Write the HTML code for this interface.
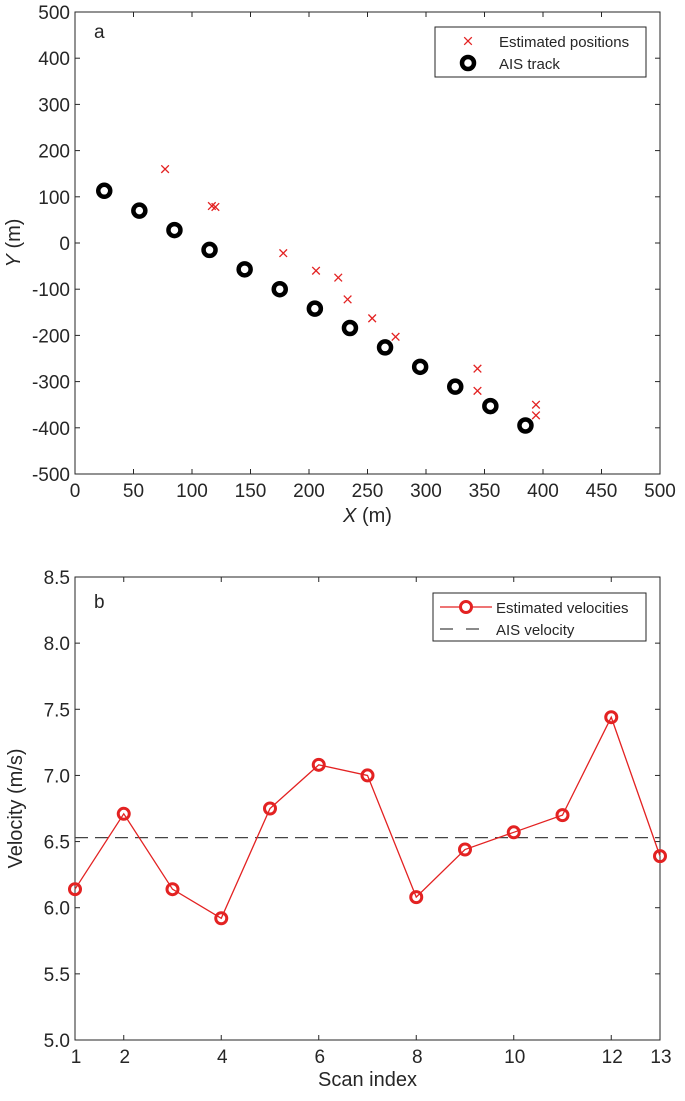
<!DOCTYPE html>
<html><head><meta charset="utf-8"><style>
body{margin:0;background:#fff;}
svg text{font-family:"Liberation Sans",Arial,sans-serif;fill:#262626;}
</style></head><body>
<svg width="685" height="1096" viewBox="0 0 685 1096" xmlns="http://www.w3.org/2000/svg">
<g id="top"></g>
<g id="bot"></g>
</svg>
<script>
const posTicks=[0,50,100,150,200,250,300,350,400,450,500];
const posYTicks=[-500,-400,-300,-200,-100,0,100,200,300,400,500];
const aisX=[25,55,85,115,145,175,205,235,265,295,325,355,385];
const aisY=[113,70,28,-15,-57,-100,-142,-184,-226,-268,-311,-353,-395];
const estX=[77,117,120,178,206,225,233,254,274,344,344,394,394];
const estY=[160,80,78,-22,-60,-75,-122,-163,-203,-272,-320,-350,-373];
const scanIdx=[1,2,3,4,5,6,7,8,9,10,11,12,13];
const velocities=[6.14,6.71,6.14,5.92,6.75,7.08,7.0,6.08,6.44,6.57,6.70,7.44,6.39];
const aisVelocity=6.53;
const velXTicks=[1,2,4,6,8,10,12,13];
const velYTicks=[5.0,5.5,6.0,6.5,7.0,7.5,8.0,8.5];

const NS='http://www.w3.org/2000/svg';
function mk(p,tag,a){const e=document.createElementNS(NS,tag);for(const k in a)e.setAttribute(k,a[k]);p.appendChild(e);return e;}

const T=document.getElementById('top');
const L=75,R=660,t1=12,b1=474;
const px=v=>L+(v-0)/500*(R-L);
const py=v=>b1-(v+500)/1000*(b1-t1);
let e;
e=mk(T,'rect',{x:L,y:t1,width:R-L,height:b1-t1,fill:'none',stroke:'#262626','stroke-width':1});


posTicks.forEach(v=>{
 mk(T,'line',{x1:px(v),x2:px(v),y1:b1,y2:b1-5,stroke:'#262626'});
 mk(T,'line',{x1:px(v),x2:px(v),y1:t1,y2:t1+5,stroke:'#262626'});
 e=mk(T,'text',{x:px(v),y:b1+23,'text-anchor':'middle','font-size':19});e.textContent=v;
 
 
});
posYTicks.forEach(v=>{
 mk(T,'line',{x1:L,x2:L+5,y1:py(v),y2:py(v),stroke:'#262626'});
 mk(T,'line',{x1:R,x2:R-5,y1:py(v),y2:py(v),stroke:'#262626'});
 e=mk(T,'text',{x:L-5,y:py(v)+7,'text-anchor':'end','font-size':19});e.textContent=v;
 
 
});
e=mk(T,'text',{x:(L+R)/2,y:b1+48,'text-anchor':'middle','font-size':20});
e.innerHTML='<tspan font-style="italic">X</tspan> (m)';


e=mk(T,'text',{x:0,y:0,'text-anchor':'middle','font-size':20,transform:`translate(20,${(t1+b1)/2}) rotate(-90)`});
e.innerHTML='<tspan font-style="italic">Y</tspan> (m)';


e=mk(T,'text',{x:94,y:38,'font-size':19});e.textContent='a';


aisX.forEach((x,i)=>{
 e=mk(T,'circle',{cx:px(x),cy:py(aisY[i]),r:6,fill:'none',stroke:'#000','stroke-width':4.5});
 
 
});
function cross(p,x,y,s){const g=mk(p,'g',{stroke:'#e32222','stroke-width':1.3});mk(g,'line',{x1:x-s,y1:y-s,x2:x+s,y2:y+s});mk(g,'line',{x1:x-s,y1:y+s,x2:x+s,y2:y-s});return g;}
estX.forEach((x,i)=>{
 e=cross(T,px(x),py(estY[i]),3.8);
 
 
});
e=mk(T,'rect',{x:435,y:27,width:211,height:50,fill:'#fff',stroke:'#262626'});


cross(T,468,41,3.8);
mk(T,'circle',{cx:468,cy:63,r:6,fill:'none',stroke:'#000','stroke-width':4.5});
e=mk(T,'text',{x:499,y:47,'font-size':15});e.textContent='Estimated positions';


e=mk(T,'text',{x:499,y:69,'font-size':15});e.textContent='AIS track';



const B=document.getElementById('bot');
const t2=577,b2=1040;
const qx=v=>L+(v-1)/12*(R-L);
const qy=v=>b2-(v-5)/3.5*(b2-t2);
e=mk(B,'rect',{x:L,y:t2,width:R-L,height:b2-t2,fill:'none',stroke:'#262626'});


velXTicks.forEach(v=>{
 mk(B,'line',{x1:qx(v),x2:qx(v),y1:b2,y2:b2-5,stroke:'#262626'});
 mk(B,'line',{x1:qx(v),x2:qx(v),y1:t2,y2:t2+5,stroke:'#262626'});
 e=mk(B,'text',{x:qx(v)+1,y:b2+23,'text-anchor':'middle','font-size':19});e.textContent=v;
 
 
});
velYTicks.forEach(v=>{
 mk(B,'line',{x1:L,x2:L+5,y1:qy(v),y2:qy(v),stroke:'#262626'});
 mk(B,'line',{x1:R,x2:R-5,y1:qy(v),y2:qy(v),stroke:'#262626'});
 e=mk(B,'text',{x:L-5,y:qy(v)+7,'text-anchor':'end','font-size':19});e.textContent=v.toFixed(1);
 
 
});
e=mk(B,'text',{x:(L+R)/2,y:b2+46,'text-anchor':'middle','font-size':20});e.textContent='Scan index';


e=mk(B,'text',{x:0,y:0,'text-anchor':'middle','font-size':20,transform:`translate(22,${(t2+b2)/2}) rotate(-90)`});e.textContent='Velocity (m/s)';


e=mk(B,'text',{x:94,y:608,'font-size':19});e.textContent='b';


e=mk(B,'line',{x1:L,x2:R,y1:qy(aisVelocity),y2:qy(aisVelocity),stroke:'#444','stroke-width':1.3,'stroke-dasharray':'13 7'});


e=mk(B,'polyline',{points:scanIdx.map((s,i)=>qx(s)+','+qy(velocities[i])).join(' '),fill:'none',stroke:'#e32222','stroke-width':1.3});


scanIdx.forEach((s,i)=>{
 e=mk(B,'circle',{cx:qx(s),cy:qy(velocities[i]),r:5.5,fill:'none',stroke:'#e32222','stroke-width':3});
 
 
});
e=mk(B,'rect',{x:433,y:593,width:213,height:48,fill:'#fff',stroke:'#262626'});


mk(B,'line',{x1:440,x2:492,y1:607,y2:607,stroke:'#e32222','stroke-width':1.3});
mk(B,'circle',{cx:466,cy:607,r:5.5,fill:'#fff',stroke:'#e32222','stroke-width':3});
mk(B,'line',{x1:440,x2:492,y1:629,y2:629,stroke:'#444','stroke-width':1.3,'stroke-dasharray':'13 13'});
e=mk(B,'text',{x:496,y:613,'font-size':15});e.textContent='Estimated velocities';


e=mk(B,'text',{x:496,y:635,'font-size':15});e.textContent='AIS velocity';


</script>
</body></html>
